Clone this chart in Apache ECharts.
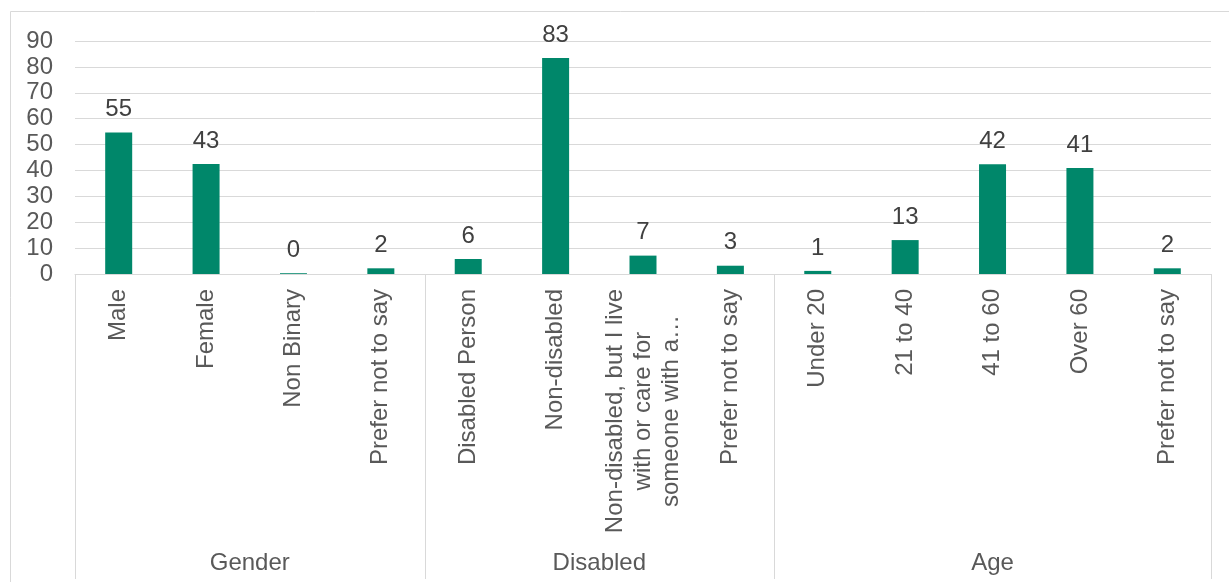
<!DOCTYPE html>
<html>
<head>
<meta charset="utf-8">
<script src="https://cdn.jsdelivr.net/npm/echarts@6/dist/echarts.min.js"></script>
<style>
html,body{margin:0;padding:0;background:#fff;}
#chart{width:1229px;height:582px;}
</style>
</head>
<body>
<div id="chart"></div>
<script>
const categories = ['Male','Female','Non Binary','Prefer not to say','Disabled Person','Non-disabled','Non-disabled, but I live\nwith or care for\nsomeone with a\u2026','Prefer not to say','Under 20','21 to 40','41 to 60','Over 60','Prefer not to say'];
const values = [54.7, 42.5, 0.3, 2.2, 5.8, 83.4, 7.1, 3.2, 1.2, 13.1, 42.4, 40.9, 2.2];
const groups = ['Gender','Disabled','Age'];
const groupSizes = [4, 4, 5];
const yTicks = {min: 0, max: 90, interval: 10};

const FONT = '"Liberation Sans", Arial, sans-serif';
const FS = 24;
const LH = 28;
const GRID = {left: 75, right: 18, top: 41, bottom: 308};

const chart = echarts.init(document.getElementById('chart'), null, {renderer: 'canvas'});

const option = {
  animation: false,
  backgroundColor: '#fff',
  grid: GRID,
  xAxis: {
    type: 'category',
    data: categories,
    axisLine: {show: true, lineStyle: {color: '#d9d9d9', width: 1}},
    axisTick: {show: false},
    axisLabel: {
      rotate: 90,
      interval: 0,
      margin: 15,
      color: '#595959',
      fontFamily: FONT,
      fontSize: FS,
      lineHeight: LH,
      formatter: function (v) {
        if (v.indexOf('\n') >= 0) {
          return v.split('\n').map(function (s) { return '{c|' + s + '}'; }).join('\n');
        }
        return v;
      },
      rich: {
        c: {align: 'center', color: '#595959', fontFamily: FONT, fontSize: FS, lineHeight: LH}
      }
    }
  },
  yAxis: {
    type: 'value',
    min: yTicks.min,
    max: yTicks.max,
    interval: yTicks.interval,
    axisLine: {show: false},
    axisTick: {show: false},
    axisLabel: {color: '#595959', fontFamily: FONT, fontSize: FS, margin: 22},
    splitLine: {lineStyle: {color: '#d9d9d9', width: 1}}
  },
  series: [{
    type: 'bar',
    data: values,
    barWidth: 27,
    itemStyle: {color: '#00876a'},
    label: {
      show: true,
      position: 'top',
      distance: 11,
      color: '#404040',
      fontFamily: FONT,
      fontSize: FS,
      formatter: function (p) { return Math.round(p.value); }
    }
  }]
};
chart.setOption(option);

// group separators and group labels, placed through the axis scale
function boundaryX(idx) {
  if (idx < categories.length) {
    const c = chart.convertToPixel({xAxisIndex: 0}, idx);
    const c2 = chart.convertToPixel({xAxisIndex: 0}, idx === 0 ? 1 : idx - 1);
    const step = idx === 0 ? (c2 - c) : (c - c2);
    return c - step / 2;
  }
  const c = chart.convertToPixel({xAxisIndex: 0}, categories.length - 1);
  const c2 = chart.convertToPixel({xAxisIndex: 0}, categories.length - 2);
  return c + (c - c2) / 2;
}
const y0 = chart.convertToPixel({yAxisIndex: 0}, 0);
const lineBottom = 579;
const graphics = [];
graphics.push({
  type: 'rect', silent: true,
  shape: {x: 10.5, y: 11.5, width: 1240, height: 600},
  style: {fill: 'none', stroke: '#d9d9d9', lineWidth: 1}
});
let start = 0;
const bounds = [0];
groupSizes.forEach(function (n) { start += n; bounds.push(start); });
bounds.forEach(function (b) {
  const x = Math.round(boundaryX(b)) + 0.5;
  graphics.push({
    type: 'line', silent: true,
    shape: {x1: x, y1: y0, x2: x, y2: lineBottom},
    style: {stroke: '#d9d9d9', lineWidth: 1}
  });
});
groups.forEach(function (g, i) {
  const xa = boundaryX(bounds[i]);
  const xb = boundaryX(bounds[i + 1]);
  graphics.push({
    type: 'text', silent: true,
    x: (xa + xb) / 2, y: 563,
    style: {text: g, fill: '#595959', font: FS + 'px ' + FONT, align: 'center', verticalAlign: 'middle'}
  });
});
chart.setOption({graphic: graphics});
</script>
</body>
</html>
